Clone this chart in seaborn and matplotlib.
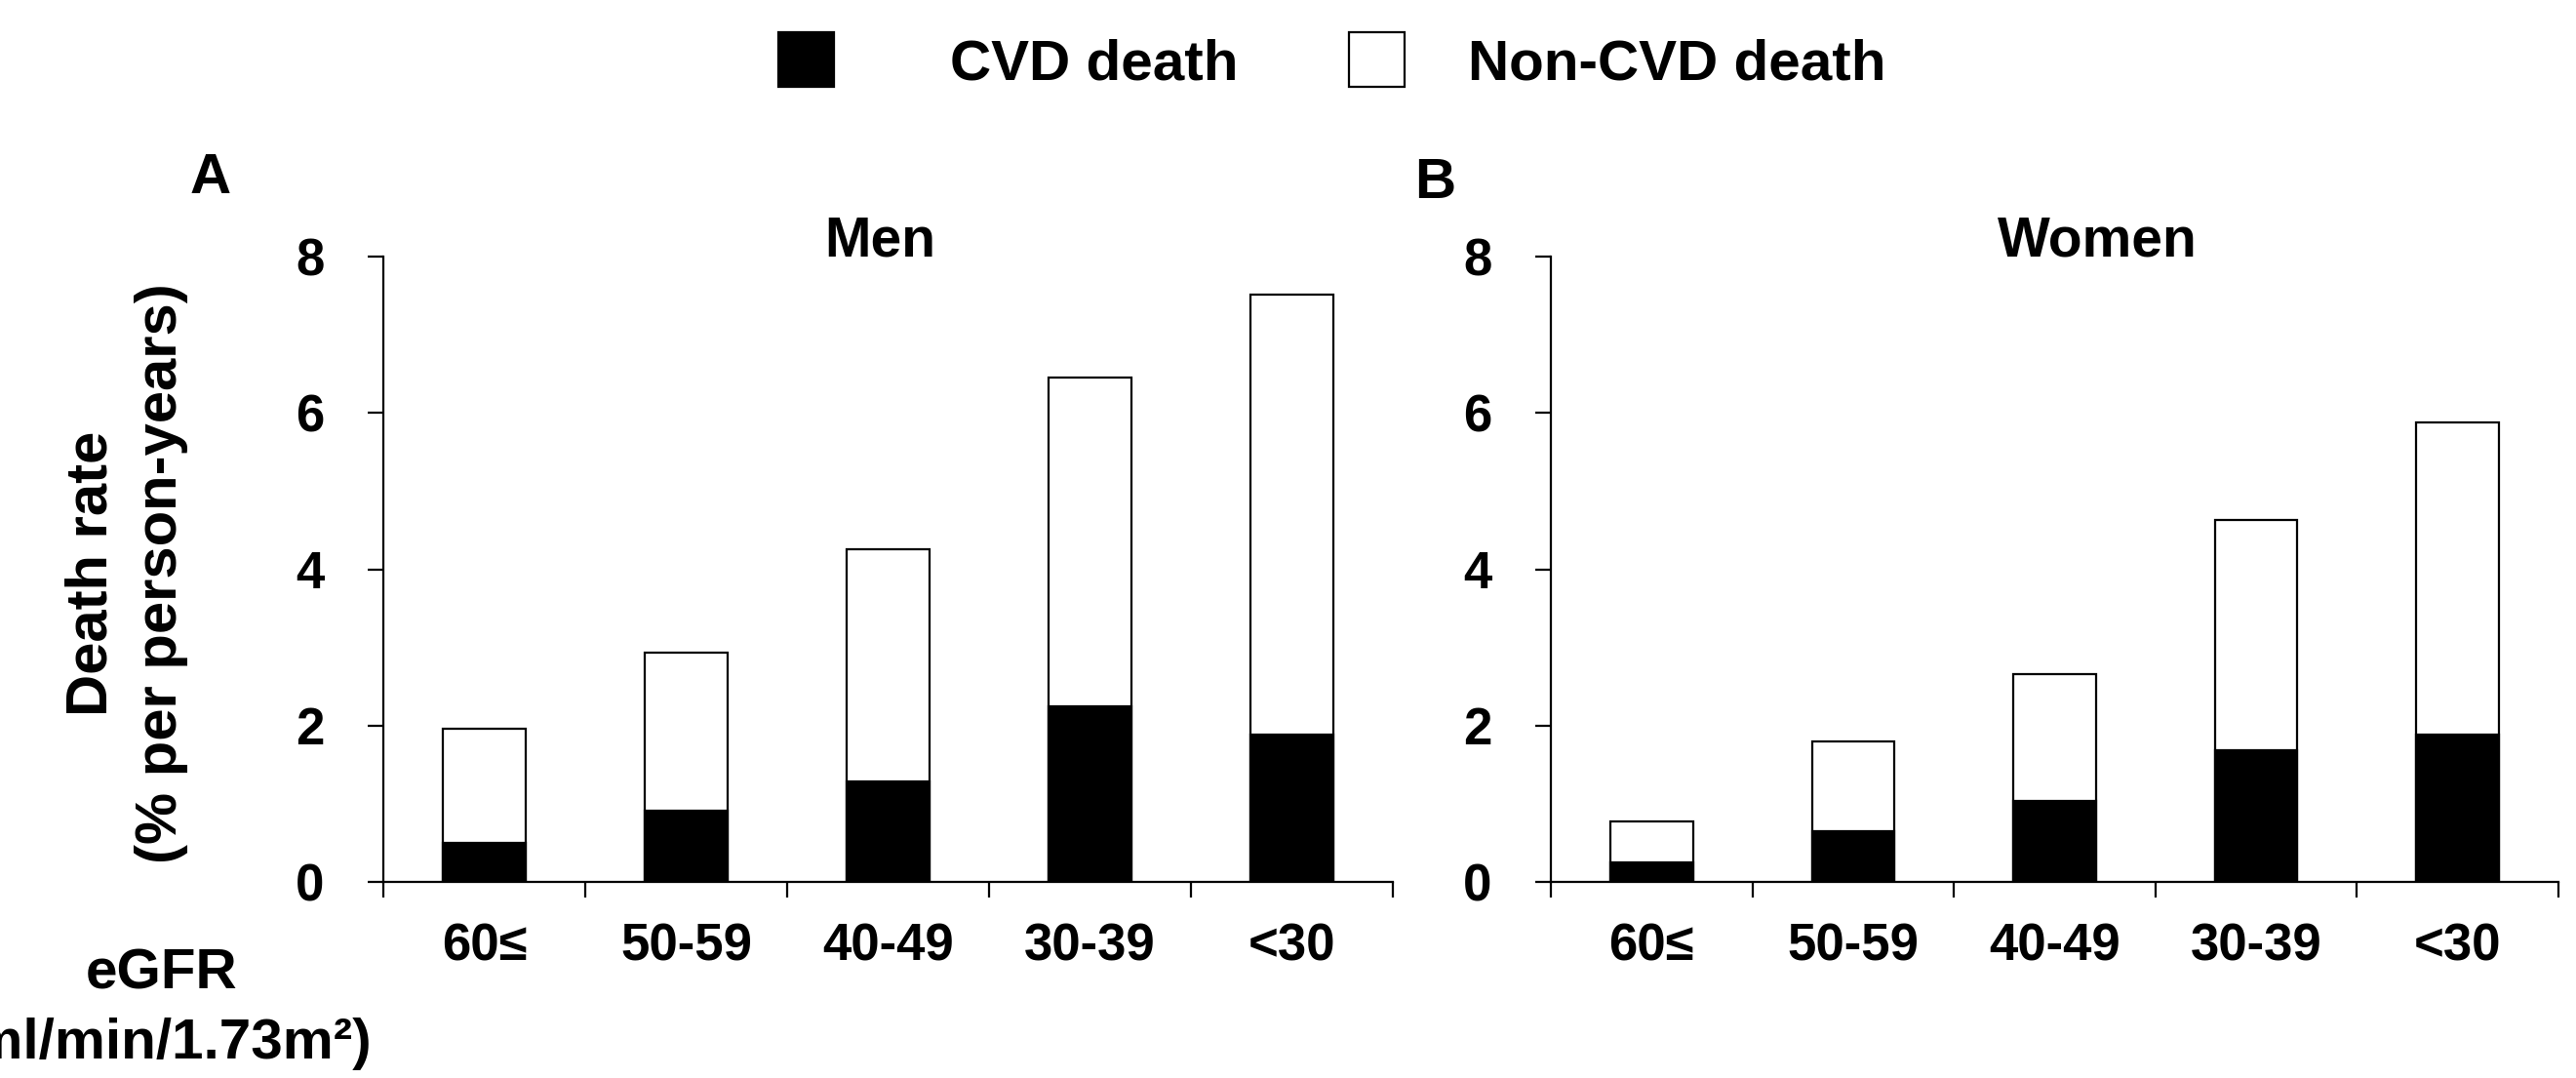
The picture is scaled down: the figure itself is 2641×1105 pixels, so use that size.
import matplotlib
matplotlib.use('Agg')
import matplotlib.pyplot as plt
import seaborn as sns
from matplotlib.patches import Rectangle

# Data
CATEGORIES = ['60≤', '50-59', '40-49', '30-39', '<30']
MEN_CVD = [0.50, 0.91, 1.29, 2.25, 1.89]
MEN_NONCVD = [1.46, 2.02, 2.97, 4.20, 5.62]
WOMEN_CVD = [0.25, 0.65, 1.03, 1.69, 1.89]
WOMEN_NONCVD = [0.52, 1.15, 1.63, 2.94, 3.99]
Y_TICKS = [0, 2, 4, 6, 8]
LEGEND_LABELS = ['CVD death', 'Non-CVD death']
LEGEND_COLORS = ['black', 'white']

W, H = 2641, 1105

sns.set_theme(style='ticks')
plt.rcParams['font.family'] = ['Liberation Sans', 'DejaVu Sans']
plt.rcParams['font.weight'] = 'bold'
plt.rcParams['text.color'] = 'black'
plt.rcParams['axes.labelcolor'] = 'black'
plt.rcParams['xtick.color'] = 'black'
plt.rcParams['ytick.color'] = 'black'


def fx(px):
    return px / W


def fy(py):
    return 1 - py / H


fig = plt.figure(figsize=(W / 100, H / 100), dpi=100)
fig.patch.set_facecolor('white')

LW = 1.6


def draw_panel(ax, cvd, noncvd, title, title_x):
    total = [a + b for a, b in zip(cvd, noncvd)]
    # total bar (white) first, then CVD part in black on top of it
    sns.barplot(x=CATEGORIES, y=total, ax=ax, color='white', edgecolor='black',
                linewidth=LW, width=0.41, saturation=1, order=CATEGORIES)
    sns.barplot(x=CATEGORIES, y=cvd, ax=ax, color='black', edgecolor='black',
                linewidth=LW, width=0.41, saturation=1, order=CATEGORIES)
    ax.set_xlim(-0.5, len(CATEGORIES) - 0.5)
    ax.set_ylim(0, 8)
    ax.set_yticks(Y_TICKS)
    ax.set_facecolor('white')
    ax.set_xlabel('')
    ax.set_ylabel('')
    for s in ['top', 'right']:
        ax.spines[s].set_visible(False)
    for s in ['left', 'bottom']:
        ax.spines[s].set_linewidth(LW)
        ax.spines[s].set_color('black')
    ax.set_xticks(range(len(CATEGORIES)))
    ax.set_xticklabels(CATEGORIES)
    ax.set_xticks([i - 0.5 for i in range(len(CATEGORIES) + 1)], minor=True)
    ax.tick_params(axis='x', which='major', length=0, pad=30, labelsize=38, labelcolor='black')
    ax.tick_params(axis='x', which='minor', length=11.5, width=LW, direction='out', color='black')
    ax.tick_params(axis='y', which='major', length=11.5, width=LW, direction='out',
                   pad=32, labelsize=38, color='black', labelcolor='black')
    for lab in ax.get_xticklabels() + ax.get_yticklabels():
        lab.set_fontweight('bold')
    ax.text(title_x, 1.0, title, transform=ax.transAxes, ha='center', va='baseline',
            fontsize=41, fontweight='bold', color='black')


ax_m = fig.add_axes([fx(393), fy(904), (1428 - 393) / W, (904 - 263) / H])
ax_w = fig.add_axes([fx(1590), fy(904), (2623 - 1590) / W, (904 - 263) / H])

draw_panel(ax_m, MEN_CVD, MEN_NONCVD, 'Men', 0.492)
draw_panel(ax_w, WOMEN_CVD, WOMEN_NONCVD, 'Women', 0.542)

# panel letters
fig.text(fx(216), fy(198), 'A', ha='center', va='baseline', fontsize=42, fontweight='bold')
fig.text(fx(1471), fy(203), 'B', ha='center', va='baseline', fontsize=42, fontweight='bold')

# y label, two rotated lines
fig.text(fx(110), fy(588), 'Death rate', rotation=90, rotation_mode='anchor',
         ha='center', va='baseline', fontsize=43, fontweight='bold')
fig.text(fx(181), fy(588), '(% per person-years)', rotation=90, rotation_mode='anchor',
         ha='center', va='baseline', fontsize=43, fontweight='bold')

# x label bottom left (cut at the left edge, as in the original)
fig.text(fx(166), fy(1013), 'eGFR', ha='center', va='baseline', fontsize=42, fontweight='bold')
fig.text(fx(166), fy(1085), '(ml/min/1.73m²)', ha='center', va='baseline',
         fontsize=42, fontweight='bold')

# legend on top: squares and labels placed like the original (uneven gaps)
box_x = [798, 1383]
text_x = [974, 1505]
for bx, tx, lab, col in zip(box_x, text_x, LEGEND_LABELS, LEGEND_COLORS):
    fig.add_artist(Rectangle((fx(bx), fy(89)), 57 / W, 56 / H, transform=fig.transFigure,
                             facecolor=col, edgecolor='black', linewidth=LW))
    fig.text(fx(tx), fy(82), lab, ha='left', va='baseline', fontsize=42, fontweight='bold')

fig.savefig('out.png', dpi=100, facecolor='white')
